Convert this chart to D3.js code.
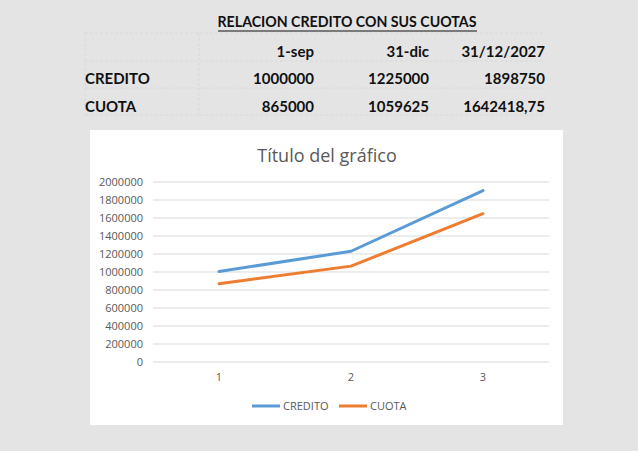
<!DOCTYPE html>
<html><head><meta charset="utf-8">
<script src="https://cdn.jsdelivr.net/npm/d3@7"></script>
<style>html,body{margin:0;padding:0;background:#e4e4e4;}svg{display:block;}</style>
</head><body>
<script>
const tableTitle = "RELACION CREDITO CON SUS CUOTAS";
const columnHeaders = ["1-sep", "31-dic", "31/12/2027"];
const rowNames = ["CREDITO", "CUOTA"];
const rowCells = [["1000000", "1225000", "1898750"], ["865000", "1059625", "1642418,75"]];
const categories = ["1", "2", "3"];
const credito = [1000000, 1225000, 1898750];
const cuota = [865000, 1059625, 1642418.75];
const yTicks = [0, 200000, 400000, 600000, 800000, 1000000, 1200000, 1400000, 1600000, 1800000, 2000000];
const chartTitle = "Título del gráfico";
const seriesNames = ["CREDITO", "CUOTA"];
const colors = ["#5b9bd5", "#ed7d31"];

const W = 638, H = 451;
const svg = d3.select("body").append("svg").attr("width", W).attr("height", H);
svg.append("rect").attr("width", W).attr("height", H).attr("fill", "#e4e4e4");

// ---- table ----
const tFont = "Lato, 'Open Sans', sans-serif";
const tg = svg.append("g");
const colX = d3.scaleOrdinal().domain(columnHeaders).range([314, 429, 545]);
const rowY = [47, 75, 102];
// faint grid
const gridC = "#d6d6d6";
[33, 61, 88, 115].forEach(y => tg.append("line").attr("x1", 85).attr("x2", 545).attr("y1", y).attr("y2", y)
  .attr("stroke", gridC).attr("stroke-dasharray", "3,2").attr("stroke-width", 0.8));
[85, 199].forEach(x => tg.append("line").attr("x1", x).attr("x2", x).attr("y1", 33).attr("y2", 115)
  .attr("stroke", gridC).attr("stroke-dasharray", "3,2").attr("stroke-width", 0.8));

const tt = tg.append("text").attr("x", 347).attr("y", 27).attr("text-anchor", "middle")
  .attr("font-family", tFont).attr("font-weight", "bold").attr("font-size", 15).attr("fill", "#111")
  .attr("textLength", 259).attr("lengthAdjust", "spacingAndGlyphs").text(tableTitle);
tg.append("line").attr("x1", 218).attr("x2", 477).attr("y1", 31).attr("y2", 31).attr("stroke", "#111").attr("stroke-width", 1.2);

columnHeaders.forEach(h => tg.append("text").attr("x", colX(h)).attr("y", 57).attr("text-anchor", "end")
  .attr("font-family", tFont).attr("font-weight", "bold").attr("font-size", 15).attr("fill", "#111").text(h));
rowNames.forEach((r, i) => {
  const y = 84 + i * 28;
  tg.append("text").attr("x", 85).attr("y", y).attr("font-family", tFont).attr("font-weight", "bold")
    .attr("font-size", 15).attr("fill", "#111").text(r);
  rowCells[i].forEach((c, j) => tg.append("text").attr("x", colX(columnHeaders[j])).attr("y", y).attr("text-anchor", "end")
    .attr("font-family", tFont).attr("font-weight", "bold").attr("font-size", 15).attr("fill", "#111").text(c));
});

// ---- chart ----
const cFont = "'Open Sans', 'Noto Sans', sans-serif";
svg.append("rect").attr("x", 90).attr("y", 130).attr("width", 473).attr("height", 295).attr("fill", "#fff");

const x = d3.scaleBand().domain(categories).range([153, 549]);
const y = d3.scaleLinear().domain([0, 2000000]).range([361.5, 181.5]);

svg.append("text").attr("x", 327).attr("y", 162).attr("text-anchor", "middle")
  .attr("font-family", cFont).attr("font-size", 18).attr("fill", "#595959").text(chartTitle);

const yAxis = svg.append("g").attr("transform", "translate(153,0)")
  .call(d3.axisLeft(y).tickValues(yTicks).tickSize(-396).tickPadding(10).tickFormat(d3.format("d")));
yAxis.select(".domain").remove();
yAxis.selectAll(".tick line").attr("stroke", "#d9d9d9");
yAxis.selectAll(".tick text").attr("font-family", cFont).attr("font-size", 11).attr("fill", "#595959");

const xAxis = svg.append("g").attr("transform", "translate(0,361.5)")
  .call(d3.axisBottom(x).tickSize(0).tickPadding(12));
xAxis.select(".domain").remove();
xAxis.selectAll(".tick text").attr("font-family", cFont).attr("font-size", 11).attr("fill", "#595959");

const line = d3.line().x((d, i) => x(categories[i]) + x.bandwidth() / 2).y(d => y(d));
[credito, cuota].forEach((s, k) => svg.append("path").datum(s).attr("d", line)
  .attr("fill", "none").attr("stroke", colors[k]).attr("stroke-width", 3).attr("stroke-linejoin", "round").attr("stroke-linecap", "round"));

// legend
const legX = [252, 339];
seriesNames.forEach((n, k) => {
  svg.append("line").attr("x1", legX[k]).attr("x2", legX[k] + 28).attr("y1", 406).attr("y2", 406)
    .attr("stroke", colors[k]).attr("stroke-width", 3);
  svg.append("text").attr("x", legX[k] + 31).attr("y", 410).attr("font-family", cFont).attr("font-size", 11)
    .attr("fill", "#595959").text(n);
});
</script>
</body></html>
